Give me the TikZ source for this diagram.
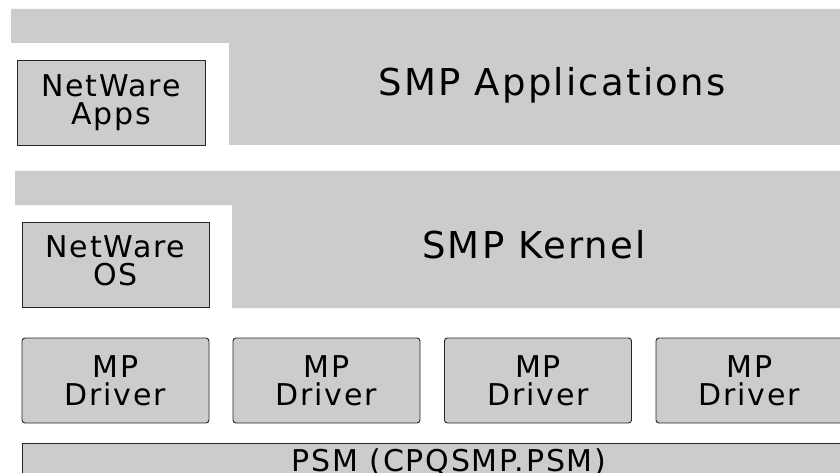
\documentclass[tikz,border=0pt]{standalone}
\usepackage{fontspec}
\setmainfont{DejaVu Sans}[LetterSpace=6]
\usetikzlibrary{positioning}

\newcommand{\boxfont}{\fontsize{30}{28}\selectfont}
\newcommand{\layerfont}{\fontsize{37}{40}\selectfont}

\begin{document}
\begin{tikzpicture}[x=1pt, y=-1pt,
    layer/.style={fill=gray!40},
    module/.style={draw=black!85, fill=gray!40, line width=0.9pt,
        align=center, font=\boxfont, inner sep=0pt,
        minimum width=187, minimum height=85},
    driver/.style={module, rounded corners=3pt}]
    \useasboundingbox (0,0) rectangle (840,473);
    \clip (0,0) rectangle (840,473);

    % Application layer
    \fill[layer] (11,9) -- (850,9) -- (850,145) -- (229,145) -- (229,43) -- (11,43) -- cycle;
    \node[anchor=base, font=\layerfont] (smpapps) at (552,96) {SMP Applications};
    \node[module, minimum width=188] (nwapps) at (111,102.5) {NetWare\\Apps};

    % Kernel layer
    \fill[layer] (15,171) -- (850,171) -- (850,308) -- (232,308) -- (232,205) -- (15,205) -- cycle;
    \node[anchor=base, font=\layerfont] (smpkernel) at (534,258) {SMP Kernel};
    \node[module] (nwos) at (115.5,265) {};
    \node[align=center, font=\boxfont, inner sep=0pt] (nwoslabel) at (115.5,261) {NetWare\\OS};

    % Driver layer
    \foreach \i/\x in {1/115.5, 2/326.5, 3/538, 4/749.5}
        \node[driver] (mp\i) at (\x,380.5) {MP\\Driver};

    % Platform support module
    \node[module, minimum width=860, minimum height=40, anchor=north west] (psm) at (22,443) {};
    \node[anchor=base, font=\boxfont] (psmlabel) at (449,471) {PSM (CPQSMP.PSM)};
\end{tikzpicture}
\end{document}
